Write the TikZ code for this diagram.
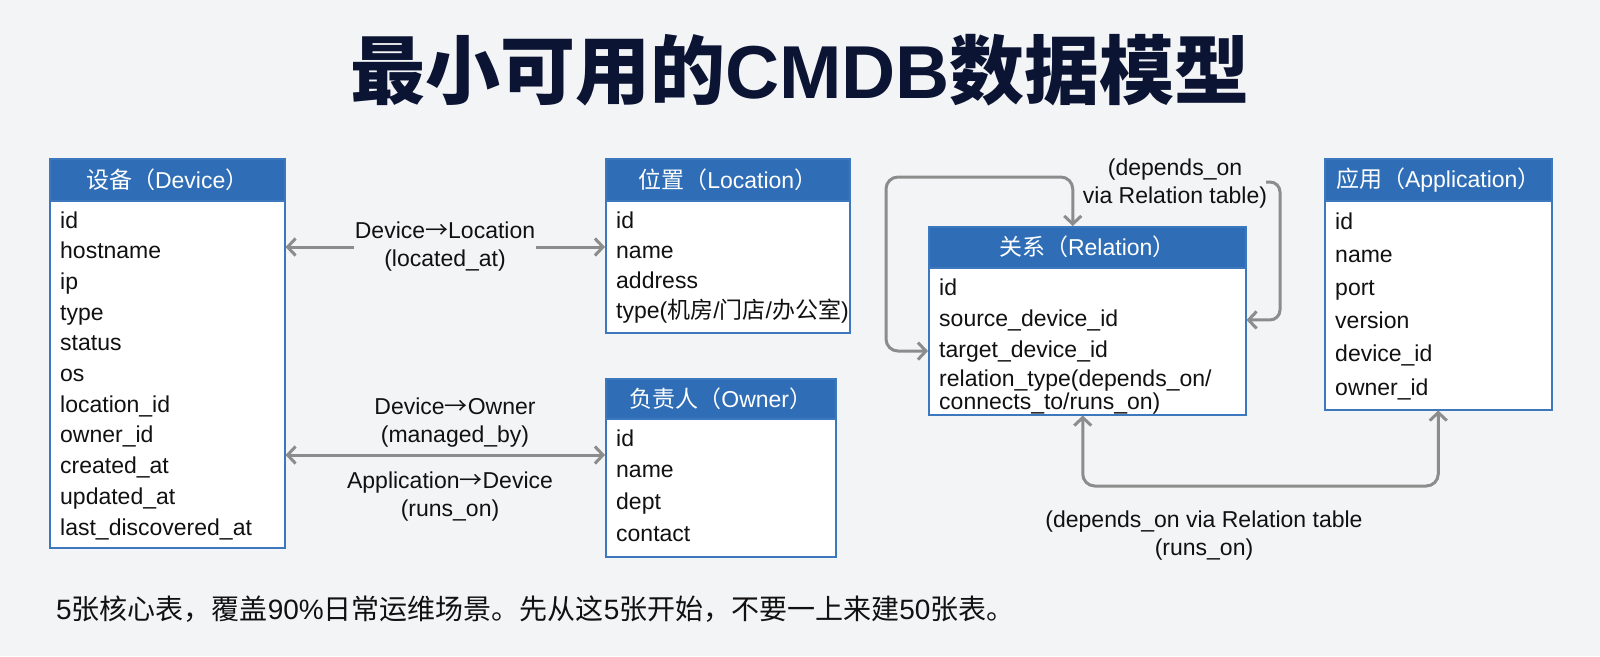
\documentclass[tikz,border=0pt]{standalone}
\usepackage{fontspec}
\setmainfont{Liberation Sans}
\newfontfamily\cjk{Noto Sans CJK SC}
\usetikzlibrary{arrows.meta,calc}
\definecolor{bg}{HTML}{F3F4F6}
\definecolor{hblue}{HTML}{2F6EB6}
\definecolor{tblue}{HTML}{3D78BE}
\definecolor{cgray}{HTML}{8C8C8C}
\definecolor{navy}{HTML}{0B1433}
\definecolor{ink}{HTML}{111111}
\newcommand{\rarr}{{\cjk →}}
\tikzset{
  tblbody/.style={draw=tblue, fill=white, line width=1.5pt, anchor=north west, inner sep=0pt},
  tblhead/.style={draw=tblue, fill=hblue, line width=1.5pt, anchor=north west, inner sep=0pt,
    text=white, font=\fontsize{23}{27}\selectfont},
  rowtxt/.style={anchor=base west, inner sep=0pt, text=ink, font=\fontsize{23}{21}\selectfont, align=left},
  lbl/.style={text=ink, font=\fontsize{23}{28}\selectfont, align=center, inner sep=1pt},
  conn/.style={draw=cgray, line width=3pt,
    arrows={Straight Barb[length=8pt,width=17pt]-Straight Barb[length=8pt,width=17pt]}},
  conn1/.style={draw=cgray, line width=3pt, arrows={-Straight Barb[length=8pt,width=17pt]}},
}
\begin{document}
\begin{tikzpicture}[x=1pt,y=-1pt]
\useasboundingbox (0,0) rectangle (1600,656);
\fill[bg] (0,0) rectangle (1600,656);

% title
\node[text=navy, font=\fontsize{75}{80}\selectfont\bfseries] (title) at (800,70)
  {{\cjk\bfseries 最小可用的}CMDB{\cjk\bfseries 数据模型}};

% Device
\node[tblbody, minimum width=235pt, minimum height=389pt] (dev) at (49,158) {};
\node[tblhead, minimum width=235pt, minimum height=42pt] (devh) at (dev.north west)
  {{\cjk 设备（}Device{\cjk ）}};
\foreach \t [count=\i from 0] in {id,hostname,ip,type,status,os,location\_id,owner\_id,created\_at,updated\_at,last\_discovered\_at}
  \node[rowtxt] (dev-\i) at ($(dev.north west)+(11,{70+30.7*\i})$) {\t};

% Location
\node[tblbody, minimum width=244pt, minimum height=174pt] (loc) at (605,158) {};
\node[tblhead, minimum width=244pt, minimum height=42pt] (loch) at (loc.north west)
  {{\cjk 位置（}Location{\cjk ）}};
\foreach \t [count=\i from 0] in {id,name,address}
  \node[rowtxt] (loc-\i) at ($(loc.north west)+(11,{70+30.3*\i})$) {\t};
\node[rowtxt] (loc-3) at ($(loc.north west)+(11,{70+30.3*3})$)
  {type({\cjk 机房}/{\cjk 门店}/{\cjk 办公室})};

% Owner
\node[tblbody, minimum width=230pt, minimum height=178pt] (own) at (605,378) {};
\node[tblhead, minimum width=230pt, minimum height=40pt] (ownh) at (own.north west)
  {{\cjk 负责人（}Owner{\cjk ）}};
\foreach \t [count=\i from 0] in {id,name,dept,contact}
  \node[rowtxt] (own-\i) at ($(own.north west)+(11,{68+31.7*\i})$) {\t};

% Relation
\node[tblbody, minimum width=317pt, minimum height=188pt] (rel) at (928,226) {};
\node[tblhead, minimum width=317pt, minimum height=41pt] (relh) at (rel.north west)
  {{\cjk 关系（}Relation{\cjk ）}};
\foreach \t [count=\i from 0] in {id,source\_device\_id,target\_device\_id}
  \node[rowtxt] (rel-\i) at ($(rel.north west)+(11,{69+31*\i})$) {\t};
\node[rowtxt] (rel-3) at ($(rel.north west)+(11,{69+31*3+21})$)
  {relation\_type(depends\_on/\\connects\_to/runs\_on)};

% Application
\node[tblbody, minimum width=227pt, minimum height=251pt] (app) at (1324,158) {};
\node[tblhead, minimum width=227pt, minimum height=42pt] (apph) at (app.north west)
  {{\cjk 应用（}Application{\cjk ）}};
\foreach \t [count=\i from 0] in {id,name,port,version,device\_id,owner\_id}
  \node[rowtxt] (app-\i) at ($(app.north west)+(11,{71+33.2*\i})$) {\t};

% Device <-> Location
\coordinate (c1) at (445,247);
\draw[conn] (dev.east |- c1) -- (loc.west |- c1);
\node[lbl, fill=bg] (l1) at (c1) {Device\rarr Location\\(located\_at)};

% Device <-> Owner
\coordinate (c2) at (450,455);
\draw[conn] (dev.east |- c2) -- (own.west |- c2);
\node[lbl] (l2) at (455,423) {Device\rarr Owner\\(managed\_by)};
\node[lbl] (l3) at (450,497) {Application\rarr Device\\(runs\_on)};

% Relation self loop (left)
\coordinate (lc) at (886,177);
\draw[conn, rounded corners=12pt] ([xshift=-14.5pt]rel.north) |- (lc) |- (rel.west |- rel-2);

% right loop
\coordinate (rs) at (1266,182);
\coordinate (rc) at (1280,182);
\draw[conn1, rounded corners=10pt] (rs) -- (rc) |- (rel.east |- rel-1);
\node[lbl] (l4) at (1175,184) {(depends\_on\\via Relation table)};

% Relation <-> Application
\coordinate (bc) at (1260,486);
\draw[conn, rounded corners=12pt] ([xshift=-4.5pt]rel.south) |- (bc) -| (app.south);
\node[lbl] (l5) at (1204,536) {(depends\_on via Relation table\\(runs\_on)};

% footer
\node[anchor=west, inner sep=0pt, text=ink, font=\fontsize{28}{32}\selectfont] (foot) at (56,609)
  {5{\cjk 张核心表，覆盖}90\%{\cjk 日常运维场景。先从这}5{\cjk 张开始，不要一上来建}50{\cjk 张表。}};
\end{tikzpicture}
\end{document}
